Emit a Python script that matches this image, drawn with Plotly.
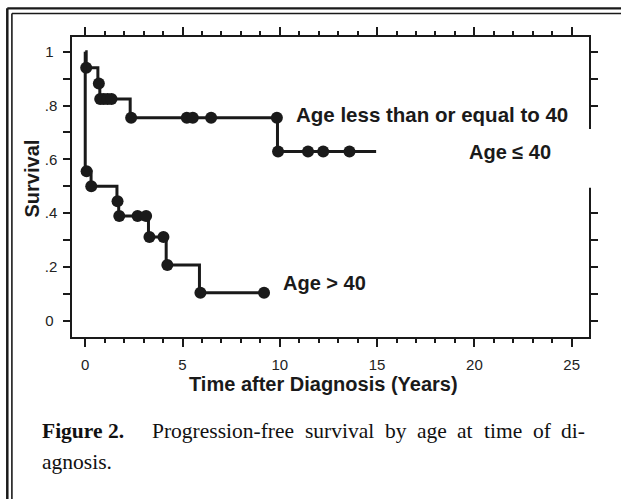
import plotly.graph_objects as go

# ---------------- data ----------------
# Age <= 40 : step curve (time, survival) and marked observations
young_step_t = [0, 0.05, 0.65, 0.75, 2.31, 9.88, 14.95]
young_step_s = [1.0, 0.941, 0.882, 0.824, 0.755, 0.629, 0.629]
young_mark_t = [0.05, 0.70, 0.77, 0.95, 1.15, 1.35, 2.36, 5.22, 5.53, 6.47, 9.85, 9.91, 11.45, 12.23, 13.58]
young_mark_s = [0.941, 0.882, 0.824, 0.824, 0.824, 0.824, 0.755, 0.755, 0.755, 0.755, 0.755, 0.629, 0.629, 0.629, 0.629]

# Age > 40
old_step_t = [0, 0, 0.30, 1.63, 1.72, 3.25, 4.16, 5.87, 9.19]
old_step_s = [1.0, 0.556, 0.50, 0.444, 0.389, 0.311, 0.207, 0.104, 0.104]
old_mark_t = [0.07, 0.31, 1.66, 1.75, 2.69, 3.13, 3.30, 4.02, 4.22, 5.92, 9.19]
old_mark_s = [0.556, 0.50, 0.444, 0.389, 0.389, 0.389, 0.311, 0.311, 0.207, 0.104, 0.104]

x_ticks = [0, 5, 10, 15, 20, 25]
y_ticks = [0, 0.2, 0.4, 0.6, 0.8, 1.0]
y_tick_labels = ["0\u2005", ".2", ".4", ".6", ".8", "1\u2005"]

label_young_long = "Age less than or equal to 40"
label_young_short = "Age \u2264 40"
label_old = "Age > 40"
x_title = "Time after Diagnosis (Years)"
y_title = "Survival"
caption_bold = "Figure 2."
caption_words = ["Progression-free", "survival", "by", "age", "at", "time", "of", "di-"]
caption_line2 = "agnosis."

# ---------------- layout helpers ----------------
W, H = 621, 499
ML, MR, MT, MB = 72, 32, 37, 162
PW, PH = W - ML - MR, H - MT - MB

def px(x):
    return (x - ML) / PW

def py(y):
    return (H - MB - y) / PH

INK = "#1a1a1a"
FONT = "Liberation Sans, Arial, Helvetica, sans-serif"
SERIF = "Liberation Serif, Times New Roman, serif"

fig = go.Figure()
for st, ss, mt, ms, name in [
    (young_step_t, young_step_s, young_mark_t, young_mark_s, "Age <= 40"),
    (old_step_t, old_step_s, old_mark_t, old_mark_s, "Age > 40"),
]:
    fig.add_trace(go.Scatter(x=st, y=ss, mode="lines", line=dict(shape="hv", color=INK, width=3),
                             name=name, showlegend=False, hoverinfo="skip"))
    fig.add_trace(go.Scatter(x=mt, y=ms, mode="markers", marker=dict(size=12, color=INK),
                             name=name, showlegend=False))

axis_common = dict(showline=True, linecolor=INK, linewidth=1.5, mirror="ticks",
                   ticks="outside", tickcolor=INK, tickwidth=1.5, showgrid=False,
                   zeroline=False, tickfont=dict(family=FONT, size=15, color="#222"))

fig.update_xaxes(range=[-0.68, 25.89], tickvals=x_ticks, ticklen=8, ticklabelstandoff=5,
                 minor=dict(dtick=1, tick0=0, ticklen=4, ticks="outside", tickcolor=INK, tickwidth=1.5),
                 **axis_common)
fig.update_yaxes(range=[-0.061, 1.055], tickvals=y_ticks, ticktext=y_tick_labels, ticklen=7,
                 ticklabelstandoff=3,
                 minor=dict(dtick=0.1, tick0=0, ticklen=7, ticks="outside", tickcolor=INK, tickwidth=1.5),
                 **axis_common)

shapes = []
# double frame around the figure
shapes.append(dict(type="line", xref="paper", yref="paper", x0=px(7.3), x1=px(7.3), y0=py(8.3), y1=py(505),
                   line=dict(color=INK, width=2.5)))
shapes.append(dict(type="line", xref="paper", yref="paper", x0=px(7.3), x1=px(630), y0=py(8.3), y1=py(8.3),
                   line=dict(color=INK, width=2.2)))
shapes.append(dict(type="line", xref="paper", yref="paper", x0=px(11.9), x1=px(11.9), y0=py(13.5), y1=py(505),
                   line=dict(color=INK, width=1.6)))
shapes.append(dict(type="line", xref="paper", yref="paper", x0=px(11.9), x1=px(630), y0=py(13.5), y1=py(13.5),
                   line=dict(color=INK, width=1.6)))
# white box interrupting the right axis beside the label
shapes.append(dict(type="rect", xref="paper", yref="paper", x0=px(578), x1=px(605), y0=py(187.8), y1=py(129),
                   fillcolor="white", line=dict(width=0), layer="above"))

annotations = []
def txt(text, x, y, size, xanchor="center", family=FONT, bold=True, angle=0, color=INK):
    t = f"<b>{text}</b>" if bold else text
    annotations.append(dict(text=t, x=px(x), y=py(y), xref="paper", yref="paper", showarrow=False,
                            xanchor=xanchor, yanchor="middle", textangle=angle,
                            font=dict(family=family, size=size, color=color)))

txt(label_young_long, 294, 114, 20.5, xanchor="left")
txt(label_young_short, 510, 152, 20)
txt(label_old, 324.5, 283, 20)
txt(x_title, 323, 384.5, 20)
txt(y_title, 31, 178.5, 20, angle=-90)

# caption (justified first line)
cap_size = 21.5
txt(caption_bold, 40, 431, cap_size, xanchor="left", family=SERIF, bold=True, color="#111")
em = {"Progression-free": 6.609, "survival": 3.222, "by": 1.0, "age": 1.388, "at": 0.722,
      "time": 1.778, "of": 0.833, "di-": 1.111}
start, end = 150, 583
widths = [em[w] * cap_size for w in caption_words]
gap = (end - start - sum(widths)) / (len(caption_words) - 1)
xpos = start
for w, wd in zip(caption_words, widths):
    txt(w, xpos, 431, cap_size, xanchor="left", family=SERIF, bold=False, color="#111")
    xpos += wd + gap
txt(caption_line2, 40, 462, cap_size, xanchor="left", family=SERIF, bold=False, color="#111")

fig.update_layout(width=W, height=H, margin=dict(l=ML, r=MR, t=MT, b=MB, pad=0),
                  paper_bgcolor="white", plot_bgcolor="white", showlegend=False,
                  shapes=shapes, annotations=annotations)

fig.write_html("out.html", config={"displayModeBar": False},
               post_script="document.body.style.margin='0px';")
